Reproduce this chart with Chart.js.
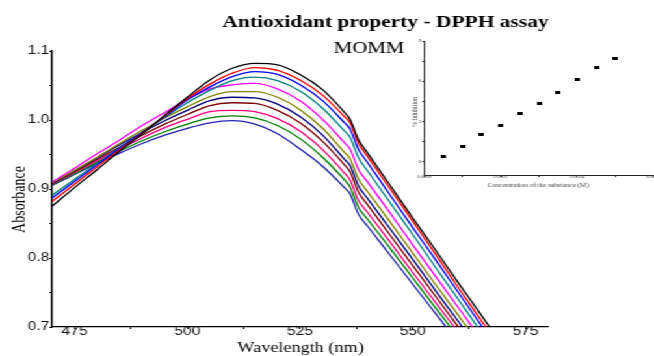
<!DOCTYPE html>
<html>
<head>
<meta charset="utf-8">
<script src="https://cdn.jsdelivr.net/npm/chart.js@4.4.0/dist/chart.umd.min.js"></script>
<style>
html, body { margin: 0; padding: 0; background: #fff; overflow: hidden; }
/* the source figure is stretched sideways, so the whole stage is too */
#stage { position: relative; width: 503px; height: 356px; overflow: hidden; transform: scaleX(1.3002); transform-origin: 0 0; }
#main { position: absolute; left: 0; top: 0; }
#inset { position: absolute; left: 300px; top: 30px; }
</style>
</head>
<body>
<div id="stage">
  <canvas id="main" width="503" height="356"></canvas>
  <canvas id="inset" width="225" height="165"></canvas>
</div>
<script>
// wavelengths (nm)
var wavelengths = [470, 475, 480, 485, 490, 495, 500, 505, 510, 515, 520, 525, 530, 535, 536, 538, 540, 545, 550, 555, 560, 565, 570, 575];

// absorbance spectra, top curve to bottom curve at the peak
var absBlack   = [0.875, 0.902, 0.928, 0.955, 0.980, 1.007, 1.033, 1.058, 1.075, 1.082, 1.080, 1.066, 1.044, 1.010, 1.002, 0.971, 0.952, 0.905, 0.858, 0.812, 0.765, 0.719, 0.672, 0.626];
var absRed     = [0.882, 0.907, 0.932, 0.957, 0.981, 1.006, 1.031, 1.052, 1.068, 1.076, 1.072, 1.058, 1.036, 1.004, 0.997, 0.966, 0.947, 0.900, 0.853, 0.806, 0.758, 0.711, 0.664, 0.617];
var absBlue    = [0.887, 0.911, 0.935, 0.959, 0.982, 1.005, 1.029, 1.048, 1.063, 1.070, 1.066, 1.051, 1.028, 0.995, 0.988, 0.957, 0.938, 0.891, 0.844, 0.798, 0.751, 0.704, 0.657, 0.610];
var absTeal    = [0.891, 0.914, 0.937, 0.960, 0.982, 1.004, 1.025, 1.043, 1.057, 1.062, 1.057, 1.042, 1.017, 0.983, 0.976, 0.945, 0.926, 0.880, 0.834, 0.787, 0.741, 0.694, 0.648, 0.601];
var absMagenta = [0.910, 0.930, 0.951, 0.971, 0.992, 1.011, 1.030, 1.045, 1.051, 1.053, 1.045, 1.028, 1.001, 0.966, 0.959, 0.928, 0.910, 0.865, 0.819, 0.774, 0.729, 0.684, 0.639, 0.593];
var absOlive   = [0.909, 0.927, 0.946, 0.966, 0.985, 1.003, 1.019, 1.034, 1.041, 1.041, 1.033, 1.015, 0.988, 0.952, 0.945, 0.914, 0.896, 0.852, 0.807, 0.762, 0.718, 0.673, 0.629, 0.584];
var absNavy    = [0.908, 0.926, 0.945, 0.964, 0.982, 0.999, 1.014, 1.028, 1.033, 1.032, 1.023, 1.005, 0.978, 0.942, 0.935, 0.904, 0.886, 0.842, 0.798, 0.753, 0.709, 0.664, 0.620, 0.576];
var absMaroon  = [0.908, 0.925, 0.943, 0.961, 0.978, 0.994, 1.008, 1.021, 1.025, 1.024, 1.014, 0.996, 0.969, 0.934, 0.926, 0.895, 0.877, 0.833, 0.789, 0.745, 0.701, 0.657, 0.613, 0.569];
var absPink    = [0.907, 0.924, 0.941, 0.958, 0.974, 0.989, 1.001, 1.012, 1.014, 1.012, 1.002, 0.984, 0.957, 0.922, 0.914, 0.883, 0.866, 0.823, 0.779, 0.736, 0.693, 0.650, 0.607, 0.563];
var absGreen   = [0.906, 0.922, 0.939, 0.955, 0.970, 0.983, 0.994, 1.003, 1.006, 1.003, 0.992, 0.973, 0.946, 0.912, 0.904, 0.873, 0.856, 0.814, 0.771, 0.728, 0.686, 0.643, 0.601, 0.558];
var absRoyal   = [0.905, 0.921, 0.937, 0.952, 0.966, 0.978, 0.988, 0.996, 0.999, 0.994, 0.980, 0.958, 0.933, 0.901, 0.894, 0.863, 0.846, 0.804, 0.762, 0.720, 0.678, 0.636, 0.594, 0.552];

var spectra = [absBlack, absRed, absBlue, absTeal, absMagenta, absOlive, absNavy, absMaroon, absPink, absGreen, absRoyal];
var spectraColors = ['#000000', '#ff0000', '#0000ff', '#008080', '#ff00ff', '#808000', '#000080', '#800000', '#ff0080', '#008000', '#2323b4'];

// axis ticks of the main plot
var xTicks  = [475, 487.5, 500, 512.5, 525, 537.5, 550, 562.5, 575];
var xLabels = ['475', '', '500', '', '525', '', '550', '', '575'];
var yTicks  = [0.7, 0.75, 0.8, 0.85, 0.9, 0.95, 1.0, 1.05, 1.1];
var yLabels = ['0.7', '', '0.8', '', '0.9', '', '1.0', '', '1.1'];

// inset: % inhibition against concentration
var concentration = [0.00005, 0.0001, 0.00015, 0.0002, 0.00025, 0.0003, 0.00035, 0.0004, 0.00045, 0.0005];
var inhibition    = [0.37, 1.11, 2.04, 2.71, 3.60, 4.30, 5.19, 6.11, 7.04, 7.71];
var concTicks  = [0, 0.0001, 0.0002, 0.0003, 0.0004, 0.0005, 0.0006];
var concLabels = ['0.0000', '', '0.0002', '', '0.0004', '', '0.0006'];
var inhTicks  = [0, 1.5, 3, 4.5, 6, 7.5, 9];
var inhLabels = ['0', '', '3', '', '6', '', '9'];

// free text drawn straight on the canvas
function textPlugin(items) {
    return {
        id: 'freeText',
        afterDraw: function (chart) {
            var ctx = chart.ctx;
            items.forEach(function (t) {
                ctx.save();
                ctx.font = t.font;
                ctx.fillStyle = t.color || '#000';
                ctx.textAlign = 'center';
                ctx.textBaseline = 'alphabetic';
                ctx.translate(t.x, t.y);
                if (t.rotate) ctx.rotate(t.rotate);
                ctx.fillText(t.text, 0, 0);
                ctx.restore();
            });
        }
    };
}

var mainChart = new Chart(document.getElementById('main').getContext('2d'), {
    type: 'line',
    data: {
        datasets: spectra.map(function (vals, k) {
            return {
                data: wavelengths.map(function (w, i) { return {x: w, y: vals[i]}; }),
                borderColor: spectraColors[k],
                borderWidth: 1.3,
                pointRadius: 0,
                fill: false,
                cubicInterpolationMode: 'monotone'
            };
        })
    },
    options: {
        responsive: false,
        animation: false,
        devicePixelRatio: 1,
        layout: {padding: {left: 0, right: 81.5, top: 51, bottom: 0}},
        plugins: {legend: {display: false}, tooltip: {enabled: false}},
        scales: {
            x: {
                type: 'linear',
                min: 470,
                max: 580,
                afterBuildTicks: function (s) { s.ticks = xTicks.map(function (v) { return {value: v}; }); },
                afterFit: function (s) { s.height = 29; },
                grid: {drawOnChartArea: false, tickLength: 2, color: '#000'},
                border: {color: '#000', width: 1.2},
                ticks: {
                    autoSkip: false, maxRotation: 0, padding: -3, color: '#111',
                    font: {family: 'Liberation Sans', size: 12, lineHeight: 1},
                    callback: function (v, i) { return xLabels[i]; }
                }
            },
            y: {
                min: 0.7,
                max: 1.1,
                afterBuildTicks: function (s) { s.ticks = yTicks.map(function (v) { return {value: v}; }); },
                afterFit: function (s) { s.width = 40; },
                grid: {drawOnChartArea: false, tickLength: 2, color: '#000'},
                border: {color: '#000', width: 1.5},
                ticks: {
                    autoSkip: false, padding: 0, color: '#111',
                    font: {family: 'Liberation Sans', size: 12},
                    callback: function (v, i) { return yLabels[i]; }
                }
            }
        }
    },
    plugins: [textPlugin([
        {text: 'Antioxidant property - DPPH assay', font: 'bold 16.5px "Liberation Serif"', x: 296.5, y: 26.5},
        {text: 'MOMM', font: '16px "Liberation Serif"', x: 283.8, y: 53},
        {text: 'Wavelength (nm)', font: '14px "Liberation Serif"', x: 231.2, y: 352},
        {text: 'Absorbance', font: '14px "Liberation Serif"', x: 19.2, y: 199.5, rotate: -Math.PI / 2}
    ])]
});

// small black rectangle used as marker in the inset
var marker = document.createElement('canvas');
marker.width = 4;
marker.height = 3;
var mctx = marker.getContext('2d');
mctx.fillStyle = '#000';
mctx.fillRect(0, 0, 4, 3);

var insetChart = new Chart(document.getElementById('inset').getContext('2d'), {
    type: 'scatter',
    data: {
        datasets: [{
            data: concentration.map(function (c, i) { return {x: c, y: inhibition[i]}; }),
            pointStyle: marker,
            pointRadius: 2,
            showLine: false
        }]
    },
    options: {
        responsive: false,
        animation: false,
        devicePixelRatio: 1,
        layout: {padding: {left: 0, right: 22.3, top: 11, bottom: 0}},
        plugins: {legend: {display: false}, tooltip: {enabled: false}},
        scales: {
            x: {
                type: 'linear',
                min: 0,
                max: 0.0006,
                afterBuildTicks: function (s) { s.ticks = concTicks.map(function (v) { return {value: v}; }); },
                afterFit: function (s) { s.height = 20; },
                grid: {drawOnChartArea: false, tickLength: 2, color: '#333'},
                border: {color: '#222', width: 1},
                ticks: {
                    autoSkip: false, maxRotation: 0, padding: -2.5, color: '#444',
                    font: {family: 'Liberation Serif', size: 4, lineHeight: 1},
                    callback: function (v, i) { return concLabels[i]; }
                }
            },
            y: {
                min: -1,
                max: 9,
                afterBuildTicks: function (s) { s.ticks = inhTicks.map(function (v) { return {value: v}; }); },
                afterFit: function (s) { s.width = 26.3; },
                grid: {drawOnChartArea: false, tickLength: 1.5, color: '#333'},
                border: {color: '#222', width: 1},
                ticks: {
                    autoSkip: false, padding: 0.5, color: '#444',
                    font: {family: 'Liberation Serif', size: 4.5},
                    callback: function (v, i) { return inhLabels[i]; }
                }
            }
        }
    },
    plugins: [textPlugin([
        {text: '% Inhibition', font: '6px "Liberation Serif"', color: '#444', x: 21, y: 82, rotate: -Math.PI / 2},
        {text: 'Concentration of the substance (M)', font: '5.5px "Liberation Serif"', color: '#444', x: 113.8, y: 157}
    ])]
});
</script>
</body>
</html>
